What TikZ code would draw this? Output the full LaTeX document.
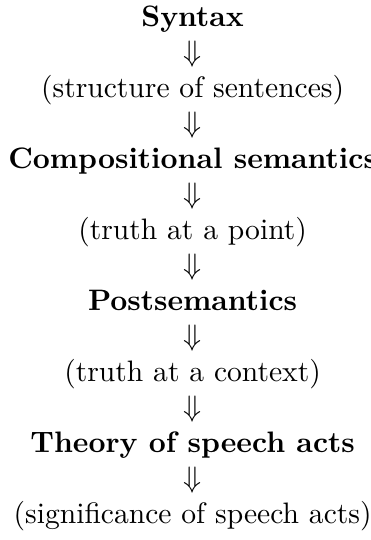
\documentclass[tikz,border=0pt]{standalone}
\usepackage{amsmath}
\usepackage{amssymb}
\usepackage{tikz}

\begin{document}
\begin{tikzpicture}[x=1pt,y=1pt]
\useasboundingbox (-65.1,-173.7) rectangle (60.0,8.8);
\tikzset{lvl/.style={inner sep=0pt,anchor=base}}
% levels and the steps between them:
\node[lvl] (syntax) at (0,0) {\textbf{Syntax}};
\node[lvl] (d1) at (0,-12) {$\Downarrow$};
\node[lvl] (struct) at (0,-24) {(structure of sentences)};
\node[lvl] (d2) at (0,-36) {$\Downarrow$};
\node[lvl] (compsem) at (0,-48) {\textbf{Compositional semantics}};
\node[lvl] (d3) at (0,-60) {$\Downarrow$};
\node[lvl] (point) at (0,-72) {(truth at a point)};
\node[lvl] (d4) at (0,-84) {$\Downarrow$};
\node[lvl] (postsem) at (0,-96) {\textbf{Postsemantics}};
\node[lvl] (d5) at (0,-108) {$\Downarrow$};
\node[lvl] (context) at (0,-120) {(truth at a context)};
\node[lvl] (d6) at (0,-132) {$\Downarrow$};
\node[lvl] (speech) at (0,-144) {\textbf{Theory of speech acts}};
\node[lvl] (d7) at (0,-156) {$\Downarrow$};
\node[lvl] (signif) at (0,-168) {(significance of speech acts)};
\end{tikzpicture}
\end{document}
